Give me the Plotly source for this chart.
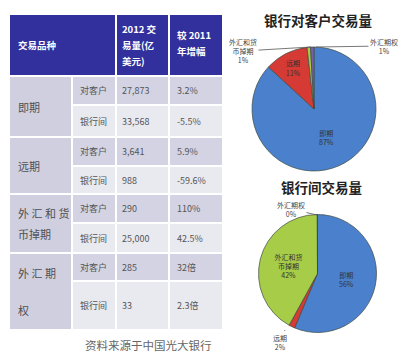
import plotly.graph_objects as go

W, H = 400, 354

# ---------------- data ----------------
categories = ["即期", "远期", "外汇和货币掉期", "外汇期权"]
cat_lines = [["即期"], ["远期"], ["外 汇 和 货", "币掉期"], ["外 汇 期", "权"]]
pie_text = ["即期", "远期", "外汇和货<br>币掉期", "外汇期权"]
counterparties = ["对客户", "银行间"]
volume_client = [27873, 3641, 290, 285]
volume_interbank = [33568, 988, 25000, 33]
growth_client = ["3.2%", "5.9%", "110%", "32倍"]
growth_interbank = ["-5.5%", "-59.6%", "42.5%", "2.3倍"]
header_lines = [["交易品种"], ["2012 交", "易量(亿", "美元)"], ["较 2011", "年增幅"]]
pie_titles = ["银行对客户交易量", "银行间交易量"]
source_note = "资料来源于中国光大银行"

# ---------------- style / layout ----------------
FONT = "Noto Sans CJK SC"
HEADER_FILL = "#31309c"
GROUP_FILL = "#cfcfe0"
ROW_FILLS = ["#d3d3e4", "#e9e9f0"]
TXT = "#555555"
slice_colors = ["#4a80cc", "#d63a35", "#a6cc48", "#7b5ea7"]

col_x = [9, 72, 116, 169, 223]
header_y = (14, 76)
row_edges = [76, 105, 137, 166, 194, 223, 253, 281, 330]
G = 1  # half gap
LINE_GAP = 16
cat_line_gap = [0, 0, 21, 37]

shapes = []
annotations = []


def rect(x0, x1, y0, y1, fill):
    shapes.append(dict(type="rect", xref="x", yref="y", x0=x0 + G, x1=x1 - G,
                       y0=y0 + G, y1=y1 - G, fillcolor=fill, line=dict(width=0),
                       layer="below"))


def text(x, y, s, size=9, color=TXT, xanchor="left", bold=False, family=FONT):
    annotations.append(dict(xref="x", yref="y", x=x, y=y, text=("<b>%s</b>" % s) if bold else s,
                            showarrow=False, xanchor=xanchor, yanchor="middle",
                            align="left" if xanchor == "left" else "center",
                            font=dict(size=size, color=color, family=family)))


# header
rect(col_x[0], col_x[2], *header_y, HEADER_FILL)
rect(col_x[2], col_x[3], *header_y, HEADER_FILL)
rect(col_x[3], col_x[4], *header_y, HEADER_FILL)
hy = (header_y[0] + header_y[1]) / 2
header_x = [col_x[0] + 7, col_x[2] + 4, col_x[3] + 6]
header_offset = [0, 0, -2]
for hx, lines, off in zip(header_x, header_lines, header_offset):
    n = len(lines)
    for li, s in enumerate(lines):
        text(hx, hy + off + (li - (n - 1) / 2) * LINE_GAP, s, size=9.5, color="white", bold=True)

# body
for gi, cat in enumerate(categories):
    y0 = row_edges[2 * gi]
    y2 = row_edges[2 * gi + 2]
    rect(col_x[0], col_x[1], y0, y2, GROUP_FILL)
    lines = cat_lines[gi]
    n = len(lines)
    for li, s in enumerate(lines):
        text(col_x[0] + 7, (y0 + y2) / 2 + (li - (n - 1) / 2) * cat_line_gap[gi], s,
             size=11, color="#505050")
    vols = [volume_client[gi], volume_interbank[gi]]
    grs = [growth_client[gi], growth_interbank[gi]]
    for ri in range(2):
        ya = row_edges[2 * gi + ri]
        yb = row_edges[2 * gi + ri + 1]
        fill = ROW_FILLS[ri]
        for c in range(1, 4):
            rect(col_x[c], col_x[c + 1], ya, yb, fill)
        ym = (ya + yb) / 2
        text(col_x[1] + 6, ym, counterparties[ri], size=9)
        text(col_x[2] + 4, ym, f"{vols[ri]:,}", size=9)
        text(col_x[3] + 6, ym, grs[ri], size=9)

text(148, 345, source_note, size=11.5, color="#666666", xanchor="center")

# ---------------- pies ----------------
fig = go.Figure()


def add_pie(values, cx, cy, r, title, title_y, outside):
    total = sum(values)
    pct = [round(v / total * 100) for v in values]
    tp = ["inside" if i not in outside else "none" for i in range(len(values))]
    fig.add_trace(go.Pie(
        labels=categories, values=values, text=pie_text, sort=False,
        direction="clockwise", rotation=0,
        domain=dict(x=[(cx - r) / W, (cx + r) / W], y=[1 - (cy + r) / H, 1 - (cy - r) / H]),
        marker=dict(colors=slice_colors, line=dict(color="#3d4a44", width=0.7)),
        texttemplate="%{text}<br>%{percent:.0%}", textposition=tp,
        insidetextorientation="horizontal",
        insidetextfont=dict(size=7, color="#333333", family=FONT),
        hoverinfo="skip", showlegend=False))
    text(cx + 4, title_y, title, size=13.5, color="#222222", xanchor="center", bold=True)
    return pct


pct1 = add_pie(volume_client, 314, 109, 62, pie_titles[0], 20, outside=[2, 3])
pct2 = add_pie(volume_interbank, 317.5, 273.5, 59, pie_titles[1], 187, outside=[1, 3])


def callout(s, tx, ty, px, py):
    annotations.append(dict(xref="x", yref="y", x=px, y=py, ax=tx, ay=ty,
                            axref="x", ayref="y", text=s, showarrow=True,
                            arrowhead=0, arrowwidth=0.8, arrowcolor="#555555",
                            align="center",
                            font=dict(size=7, color="#444444", family=FONT)))


callout(f"{pie_text[2]}<br>{pct1[2]}%", 243, 51, 311, 47)
callout(f"{pie_text[3]}<br>{pct1[3]}%", 384, 46, 316, 47)
callout(f"{pie_text[3]}<br>{pct2[3]}%", 291, 209, 317, 215)
callout(f"{pie_text[1]}<br>{pct2[1]}%", 280, 342, 285, 330)

fig.update_layout(
    width=W, height=H, margin=dict(l=0, r=0, t=0, b=0),
    paper_bgcolor="white", plot_bgcolor="rgba(0,0,0,0)",
    xaxis=dict(range=[0, W], visible=False, fixedrange=True, domain=[0, 1]),
    yaxis=dict(range=[H, 0], visible=False, fixedrange=True, domain=[0, 1]),
    shapes=shapes, annotations=annotations, showlegend=False,
)

fig.write_html("out.html")
